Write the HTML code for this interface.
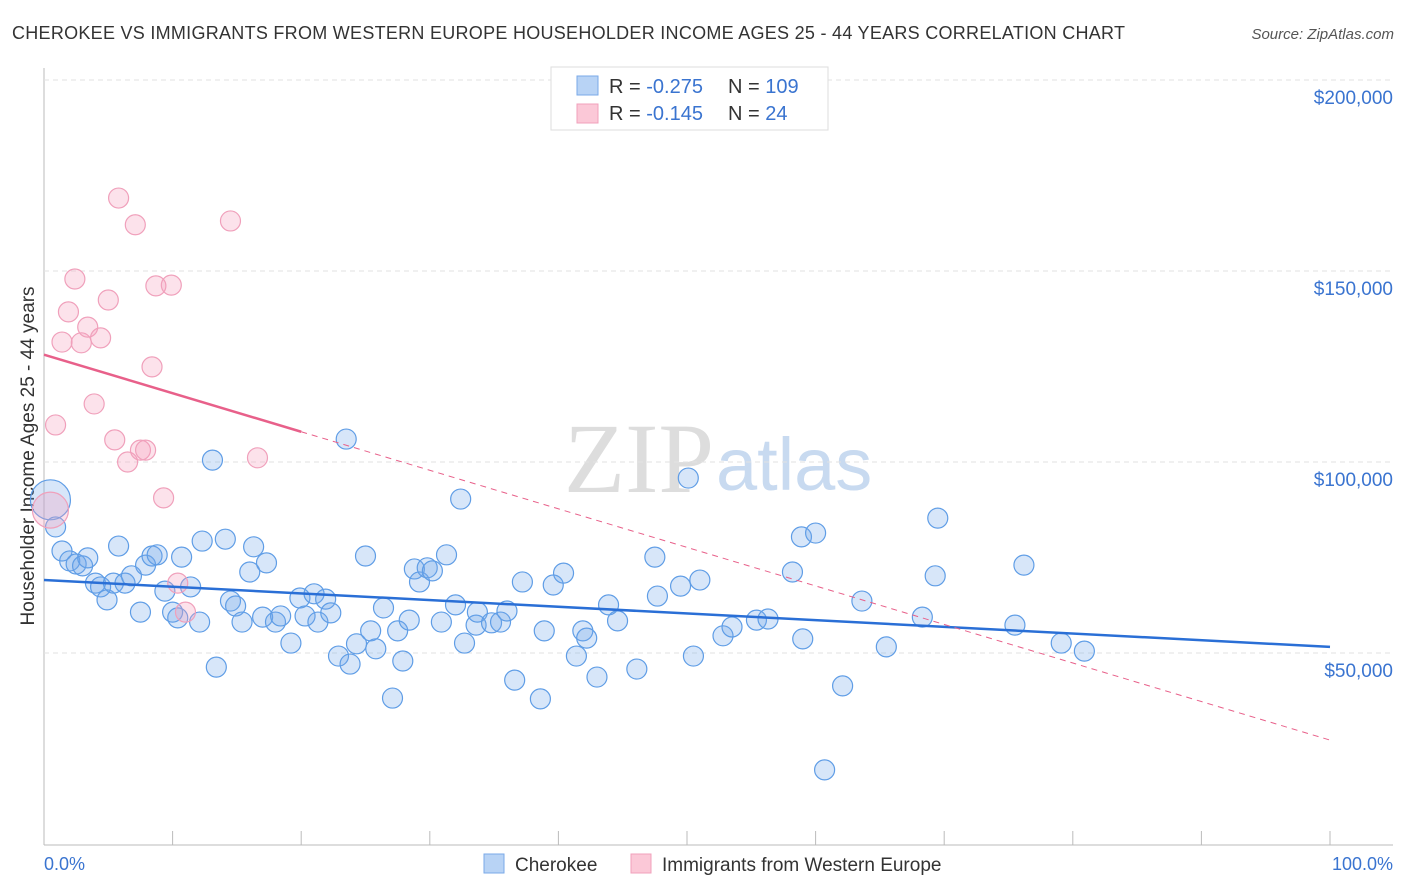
<!DOCTYPE html>
<html><head><meta charset="utf-8"><style>
body{margin:0;background:#fff;font-family:"Liberation Sans",sans-serif;}
#wrap{position:relative;width:1406px;height:892px;overflow:hidden;}
</style></head><body>
<div id="wrap">
<svg id="svg" width="1406" height="892" xmlns="http://www.w3.org/2000/svg">
<text x="12" y="39" font-size="18" fill="#333" textLength="1113">CHEROKEE VS IMMIGRANTS FROM WESTERN EUROPE HOUSEHOLDER INCOME AGES 25 - 44 YEARS CORRELATION CHART</text>
<text x="1394" y="39" font-size="15" fill="#555" font-style="italic" text-anchor="end">Source: ZipAtlas.com</text>
<text x="714" y="492" font-size="100" fill="#ddd" text-anchor="end" font-family="Liberation Serif,serif">ZIP</text>
<text x="716" y="490" font-size="74" fill="#c8daf0">atlas</text>
<text transform="translate(34,456) rotate(-90)" font-size="19" fill="#333" text-anchor="middle">Householder Income Ages 25 - 44 years</text>
<line x1="44" y1="68" x2="44" y2="845" stroke="#bbb"/>
<line x1="44" y1="845" x2="1393" y2="845" stroke="#bbb"/>
<text x="44" y="870" font-size="18" fill="#3a74d0">0.0%</text>
<text x="1393" y="870" font-size="18" fill="#3a74d0" text-anchor="end">100.0%</text>
<g id="grid"></g><g id="pts"></g><g id="trend"></g>
<rect x="551" y="67" width="277" height="63" fill="#fff" stroke="#ddd"/>
<rect x="577" y="76" width="21" height="19" fill="#b8d3f5" stroke="#7aaae8"/>
<rect x="577" y="104" width="21" height="19" fill="#fbc8d7" stroke="#f0a0bb"/>
<text x="609" y="93" font-size="20" fill="#333">R = <tspan fill="#3a74d0">-0.275</tspan></text>
<text x="728" y="93" font-size="20" fill="#333">N = <tspan fill="#3a74d0">109</tspan></text>
<text x="609" y="120" font-size="20" fill="#333">R = <tspan fill="#3a74d0"> -0.145</tspan></text>
<text x="728" y="120" font-size="20" fill="#333">N = <tspan fill="#3a74d0">  24</tspan></text>
<rect x="484" y="854" width="20" height="19" fill="#b8d3f5" stroke="#7aaae8"/>
<text x="515" y="871" font-size="19" fill="#333">Cherokee</text>
<rect x="631" y="854" width="20" height="19" fill="#fbc8d7" stroke="#f0a0bb"/>
<text x="662" y="871" font-size="19" fill="#333">Immigrants from Western Europe</text>
</svg></div>
<script>
const yTicks=[50,100,150,200];
const yTickLabels=["$50,000","$100,000","$150,000","$200,000"];
const xTicks=[0,10,20,30,40,50,60,70,80,90,100];
const blueX=[0.5,0.9,1.4,2.0,2.5,3.0,3.4,4.0,4.4,4.9,5.4,5.8,6.3,6.8,7.5,7.9,8.4,8.8,9.4,10.0,10.4,10.7,11.4,12.1,12.3,13.1,13.4,14.1,14.5,14.9,15.4,16.0,16.3,17.0,17.3,18.0,18.4,19.2,19.9,20.3,21.0,21.3,21.9,22.3,22.9,23.5,23.8,24.3,25.0,25.4,25.8,26.4,27.1,27.5,27.9,28.4,28.8,29.2,29.8,30.2,30.9,31.3,32.0,32.4,32.7,33.6,33.7,34.8,35.5,36.0,36.6,37.2,38.6,38.9,39.6,40.4,41.4,41.9,42.2,43.0,43.9,44.6,46.1,47.5,47.7,49.5,50.1,51.0,50.5,52.8,53.5,55.4,56.3,58.2,58.9,59.0,60.0,60.7,62.1,63.6,65.5,68.3,69.5,69.3,75.5,76.2,79.1,80.9];
const blueY=[90.1,83.0,76.7,74.1,73.3,72.8,74.9,68.3,67.3,63.9,68.3,78.0,68.3,70.2,60.7,73.0,75.4,75.7,66.2,60.7,59.2,75.1,67.3,58.1,79.3,100.5,46.3,79.8,63.6,62.3,58.1,71.2,77.8,59.4,73.6,58.1,59.7,52.6,64.4,59.7,65.5,58.1,64.1,60.5,49.2,106.0,47.1,52.4,75.4,55.8,51.1,61.8,38.2,55.8,47.9,58.6,72.0,68.6,72.3,71.5,58.1,75.7,62.6,90.3,52.6,57.3,60.7,57.9,58.1,61.0,42.9,68.6,38.0,55.8,67.8,70.9,49.2,55.8,53.9,43.7,62.6,58.4,45.8,75.1,64.9,67.5,95.8,69.1,49.2,54.5,56.8,58.6,58.9,71.2,80.4,53.7,81.4,19.4,41.4,63.6,51.6,59.4,85.3,70.2,57.3,73.0,52.6,50.5];
const pinkX=[0.5,0.9,1.4,1.9,2.4,2.9,3.4,3.9,4.4,5.0,5.5,5.8,6.5,7.1,7.5,7.9,8.4,8.7,9.3,9.9,10.4,11.0,14.5,16.6];
const pinkY=[87.4,109.7,131.4,139.3,147.9,131.2,135.3,115.2,132.5,142.4,105.8,169.1,100.0,162.1,103.1,103.1,124.9,146.1,90.6,146.3,68.3,60.7,163.1,101.1];
const blueTrend=[69.1,51.6];
const pinkTrend=[128.1,27.2];
const pinkSolidEnd=20;
const NS="http://www.w3.org/2000/svg";
const X=v=>44+v*12.86;
const Y=v=>844-v*3.82;
function mk(t,a,parent){const e=document.createElementNS(NS,t);for(const k in a)e.setAttribute(k,a[k]);parent.appendChild(e);return e;}
const grid=document.getElementById('grid');
yTicks.forEach((t,i)=>{
 const l=mk('line',{x1:44,x2:1393,y1:Y(t),y2:Y(t),stroke:'#e2e2e2','stroke-dasharray':'5,4'},grid);
 
 
 const tx=mk('text',{x:1393,y:Y(t)+24,'font-size':19,fill:'#3a74d0','text-anchor':'end'},grid);
 tx.textContent=yTickLabels[i];
 
 
});
xTicks.forEach(t=>{
 const l=mk('line',{x1:X(t),x2:X(t),y1:831,y2:845,stroke:'#bbb'},grid);
 
 
});
const pts=document.getElementById('pts');
blueX.forEach((x,i)=>{
 const c=mk('circle',{cx:X(x),cy:Y(blueY[i]),r:i==0?20:10,fill:'rgba(110,165,235,0.28)',stroke:'#5f9de6','stroke-width':1.2},pts);
 
 
});
pinkX.forEach((x,i)=>{
 const c=mk('circle',{cx:X(x),cy:Y(pinkY[i]),r:i==0?18:10,fill:'rgba(245,160,190,0.3)',stroke:'#f0a0bb','stroke-width':1.2},pts);
 
 
});
const tr=document.getElementById('trend');
const bl=mk('line',{x1:X(0),y1:Y(blueTrend[0]),x2:X(100),y2:Y(blueTrend[1]),stroke:'#2a6fd6','stroke-width':2.5},tr);


const pAt=x=>pinkTrend[0]+(pinkTrend[1]-pinkTrend[0])*x/100;
const ps=mk('line',{x1:X(0),y1:Y(pAt(0)),x2:X(pinkSolidEnd),y2:Y(pAt(pinkSolidEnd)),stroke:'#e8608a','stroke-width':2.5},tr);


const pd=mk('line',{x1:X(pinkSolidEnd),y1:Y(pAt(pinkSolidEnd)),x2:X(100),y2:Y(pAt(100)),stroke:'#e8608a','stroke-width':1,'stroke-dasharray':'6,5'},tr);


</script>
</body></html>
